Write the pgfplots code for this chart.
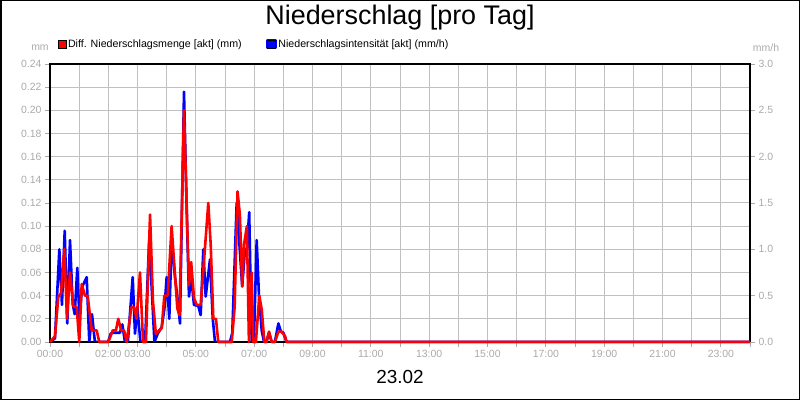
\documentclass[border=0pt]{standalone}
\usepackage{pgfplots}
\pgfplotsset{compat=1.18}
\usepackage{fontspec}
\setmainfont{Liberation Sans}
\definecolor{gridgray}{RGB}{192,192,192}
\definecolor{labelgray}{RGB}{170,170,170}
\definecolor{tickgray}{RGB}{170,170,170}
\definecolor{rred}{RGB}{255,0,0}
\definecolor{bblue}{RGB}{0,0,255}

\pgfplotstableread{
h v
0 0
0.171 0.005
0.285 0.039
0.377 0.042
0.49 0.08
0.583 0.02
0.686 0.06
0.799 0.031
0.915 0.03
1.004 0
1.087 0.05
1.2 0.04
1.292 0.04
1.43 0.01
1.6 0.01
1.69 0
2.0 0
2.15 0.01
2.26 0.01
2.34 0.02
2.44 0.01
2.54 0.01
2.63 0
2.79 0.03
2.88 0.03
2.97 0.02
3.085 0.06
3.19 0
3.29 0
3.43 0.11
3.53 0.035
3.63 0.007
3.74 0.01
3.83 0.012
3.92 0.04
4.035 0.04
4.17 0.1
4.285 0.058
4.365 0.029
4.44 0.023
4.594 0.2
4.765 0.049
4.84 0.069
4.937 0.038
5.03 0.032
5.166 0.032
5.28 0.07
5.427 0.12
5.51 0.084
5.6 0.02
5.69 0.02
5.77 0
6.23 0
6.33 0.03
6.43 0.13
6.51 0.11
6.59 0.048
6.65 0.084
6.75 0.1
6.82 0
6.915 0.06
6.97 0
7.06 0
7.175 0.04
7.26 0.028
7.35 0
7.42 0
7.51 0.009
7.6 0
7.71 0
7.83 0.009
7.94 0.009
8.06 0.005
8.11 0
24 0
}\redtable

\pgfplotstableread{
h v
0 0
0.171 0.04
0.32 1.0
0.41 0.4
0.504 1.2
0.593 0.2
0.686 1.1
0.778 0.41
0.847 0.3
0.936 0.8
1.01 0.25
1.097 0.59
1.258 0.7
1.347 0
1.44 0.3
1.54 0
1.99 0
2.08 0.09
2.16 0.1
2.4 0.1
2.48 0.19
2.57 0
2.67 0
2.835 0.7
2.914 0.09
2.993 0.375
3.1 0
3.26 0
3.4 1.1
3.5 0.5
3.58 0
3.695 0.09
3.83 0.16
3.92 0.35
4.0 0.7
4.09 0.25
4.17 1.1
4.285 0.7
4.38 0.45
4.457 0.2
4.594 2.7
4.7 1.25
4.765 0.49
4.84 0.7
4.937 0.4
5.084 0.39
5.166 0.29
5.256 1.0
5.338 0.49
5.485 0.89
5.58 0.25
5.657 0
6.17 0
6.25 0.1
6.4 1.5
6.59 0.6
6.686 1.0
6.75 1.0
6.83 1.4
6.915 0
6.99 0
7.086 1.1
7.166 0.49
7.26 0.12
7.34 0
7.42 0
7.51 0.1
7.6 0
7.71 0
7.83 0.2
7.92 0.11
8.0 0.1
8.11 0
24 0
}\bluetable

\begin{document}
\begin{tikzpicture}
\path[use as bounding box] (0,0) rectangle (800bp,400bp);
\draw[black,line width=1.5bp] (0.75bp,0.75bp) rectangle (799.25bp,399.25bp);

\pgfplotsset{
  base/.style={
    at={(50bp,58bp)}, anchor=south west,
    scale only axis, width=700bp, height=278bp,
    xmin=0, xmax=24,
    /pgf/number format/assume math mode=true,
    tick align=outside, major tick length=5bp,
    tick style={color=tickgray, line width=0.8bp},
    ticklabel style={font=\fontsize{10.5}{12}\selectfont, color=labelgray},
    axis line style={black, line width=1.5bp},
  }
}

% left axis with grid
\begin{axis}[base,
  ymin=0, ymax=0.24,
  xtick={0,...,24},
  xticklabels={{00:00},{},{02:00},{03:00},{},{05:00},{},{07:00},{},{09:00},{},{11:00},{},{13:00},{},{15:00},{},{17:00},{},{19:00},{},{21:00},{},{23:00},{}},
  ytick={0,0.02,0.04,0.06,0.08,0.10,0.12,0.14,0.16,0.18,0.20,0.22,0.24},
  yticklabel style={/pgf/number format/.cd, fixed, fixed zerofill, precision=2},
  xtick pos=left, ytick pos=left,
  grid=major, major grid style={color=gridgray, line width=1bp},
]
\end{axis}

% right axis, blue series
\begin{axis}[base,
  ymin=0, ymax=3,
  axis x line=none,
  axis y line*=right,
  ytick={0,0.5,1,1.5,2,2.5,3},
  yticklabel style={/pgf/number format/.cd, fixed, fixed zerofill, precision=1},
  legend columns=2,
  legend style={at={(0.011,1.072)}, anchor=west, draw=none, fill=none,
    inner sep=0pt, font=\fontsize{10.7}{12}\selectfont,
    nodes={inner sep=1.5bp},
    /tikz/every even column/.append style={column sep=23bp}},
  legend image code/.code={\fill[#1] (0bp,-4bp) rectangle (8bp,4bp);
     \draw[black,line width=0.6bp] (0bp,-4bp) rectangle (8bp,4bp);},
]
\addlegendimage{color=rred}
\addlegendentry{Diff. Niederschlagsmenge [akt] (mm)}
\addplot[color=bblue, line width=2.6bp, line join=round] table[x=h,y=v] {\bluetable};
\addlegendentry{Niederschlagsintensität [akt] (mm/h)}
\end{axis}

% red series on left scale (hidden axis)
\begin{axis}[base, ymin=0, ymax=0.24, hide axis, clip=false]
\addplot[color=rred, line width=2.6bp, line join=round] table[x=h,y=v] {\redtable};
\end{axis}

\node[font=\fontsize{27}{30}\selectfont] at (400bp,382bp) {Niederschlag [pro Tag]};
\node[font=\fontsize{19}{22}\selectfont] at (400bp,23bp) {23.02};
\node[font=\fontsize{10.5}{12}\selectfont, color=labelgray] at (40bp,352bp) {mm};
\node[font=\fontsize{10.5}{12}\selectfont, color=labelgray] at (766bp,352bp) {mm/h};
\end{tikzpicture}
\end{document}
